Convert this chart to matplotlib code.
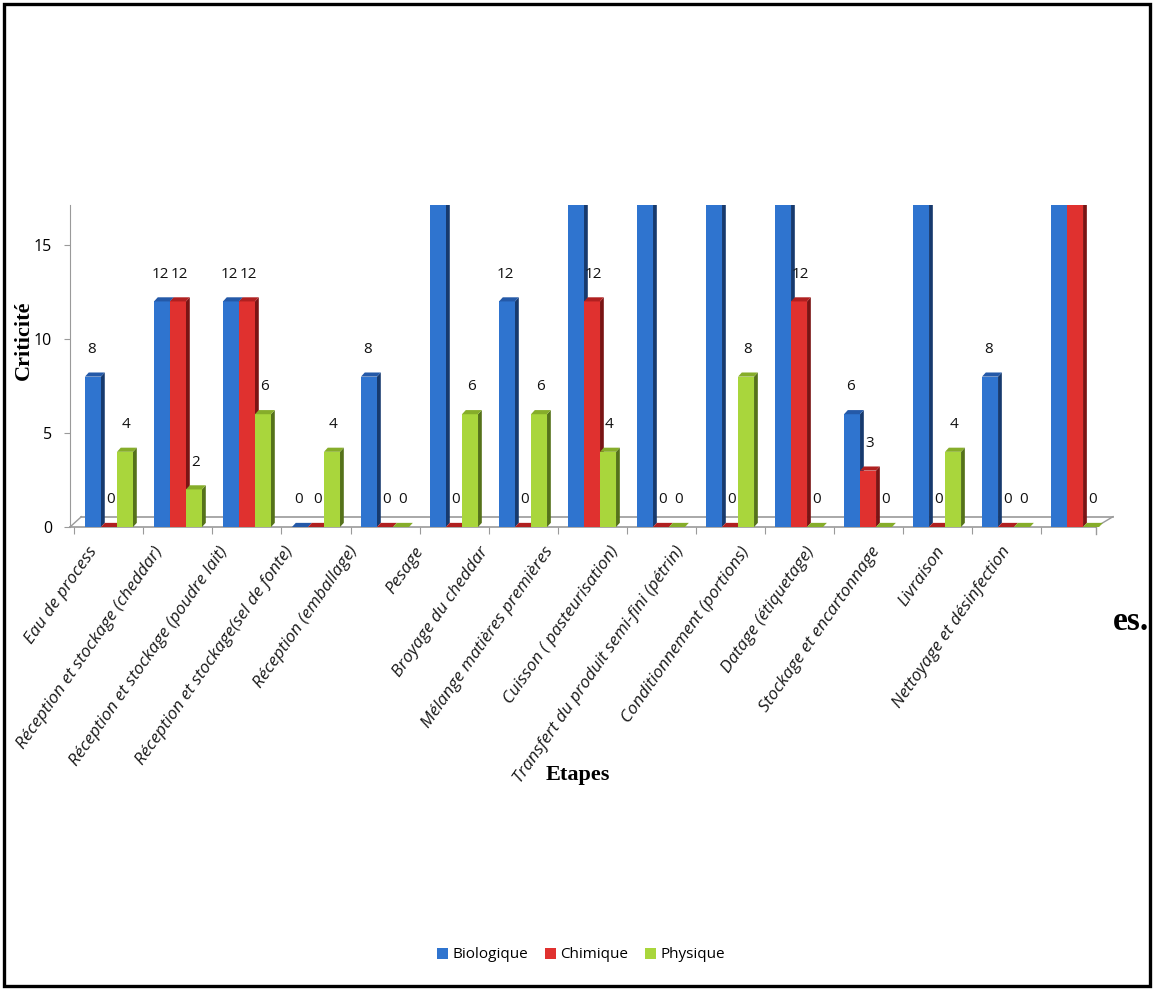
import numpy as np
import matplotlib.pyplot as plt
from matplotlib.patches import Polygon, Rectangle, Patch

etapes = ["Eau de process",
          "Réception et stockage (cheddar)",
          "Réception et stockage (poudre lait)",
          "Réception et stockage(sel de fonte)",
          "Réception (emballage)",
          "Pesage",
          "Broyage du cheddar",
          "Mélange matières premières",
          "Cuisson ( pasteurisation)",
          "Transfert du produit semi-fini (pétrin)",
          "Conditionnement (portions)",
          "Datage (étiquetage)",
          "Stockage et encartonnage",
          "Livraison",
          "Nettoyage et désinfection"]

# valeurs au-dessus de l'echelle -> barres coupees en haut
biologique = [8, 12, 12, 0, 8, 18, 12, 18, 18, 18, 18, 6, 18, 8, 18]
chimique = [0, 12, 12, 0, 0, 0, 0, 12, 0, 0, 12, 3, 0, 0, 18]
physique = [4, 2, 6, 4, 0, 6, 6, 4, 0, 8, 0, 0, 4, 0, 0]

series = [("Biologique", biologique, "#2f74cf", "#173a6e", "#2459a8"),
          ("Chimique", chimique, "#e0312f", "#7a1414", "#b02020"),
          ("Physique", physique, "#a9d63c", "#55721a", "#86ad2a")]

W, H = 1153, 989
fig = plt.figure(figsize=(W / 100, H / 100), dpi=100)

ymax = 17.13
ax = fig.add_axes([70 / W, (H - 527) / H, (1113 - 70) / W, (527 - 205) / H])
ax.set_xlim(-0.565, 14.55)
ax.set_ylim(0, ymax)

x = np.arange(len(etapes))
bw = 0.232
dx, dy = 0.055, 0.22
shift = [-0.02, 0.025, 0.02]

for k, (nom, vals, c_face, c_side, c_top) in enumerate(series):
    xs = x + (k - 1) * bw
    ax.bar(xs, vals, width=bw, color=c_face, edgecolor="none", zorder=3 + k)
    for xi, v in zip(xs, vals):
        x0, x1 = xi - bw / 2, xi + bw / 2
        side = Polygon([(x1, 0), (x1 + dx, dy), (x1 + dx, v + dy), (x1, v)],
                       closed=True, fc=c_side, ec="none", zorder=3 + k)
        top = Polygon([(x0, v), (x0 + dx, v + dy), (x1 + dx, v + dy), (x1, v)],
                      closed=True, fc=c_top, ec="none", zorder=3 + k)
        ax.add_patch(side)
        ax.add_patch(top)
        if v <= ymax - 1.5:
            ax.text(xi + shift[k], v + 1.45, str(v), ha="center", va="center",
                    fontsize=11, family="Open Sans", color="#111111",
                    zorder=10)

# plancher 3D
ax.plot([-0.565, 14.3], [0, 0], color="#9a9a9a", lw=1.2, zorder=1, clip_on=False)
ax.plot([-0.4, 14.55], [0.55, 0.55], color="#9a9a9a", lw=1.2, zorder=1, clip_on=False)
ax.plot([-0.565, -0.4], [0, 0.55], color="#9a9a9a", lw=1.0, zorder=1, clip_on=False)
ax.plot([14.3, 14.55], [0, 0.55], color="#9a9a9a", lw=1.0, zorder=1, clip_on=False)
ax.plot([14.3, 14.3], [0, -0.35], color="#9a9a9a", lw=1.0, zorder=1, clip_on=False)

for s in ["top", "right", "bottom"]:
    ax.spines[s].set_visible(False)
ax.spines["left"].set_color("#9a9a9a")
ax.set_yticks([0, 5, 10, 15])
ax.tick_params(axis="y", length=4, color="#9a9a9a", labelsize=11.5, pad=9)
for t in ax.get_yticklabels():
    t.set_family("Open Sans")
ax.set_xticks(np.arange(-0.5, 14.5, 1.0))
ax.set_xticklabels([])
ax.tick_params(axis="x", length=5, color="#9a9a9a")

# libelles des etapes sur le plan avant (perspective)
axf = fig.add_axes([55 / W, (H - 527) / H, 978 / W, 0.0001])
axf.set_xlim(-0.5, 14.5)
axf.patch.set_visible(False)
for s in ["top", "right", "left", "bottom"]:
    axf.spines[s].set_visible(False)
axf.set_yticks([])
axf.set_xticks(x)
axf.tick_params(axis="x", length=0, pad=12)
axf.set_xticklabels(etapes, rotation=55, ha="right", va="top",
                    rotation_mode="anchor", fontsize=12.5, style="italic",
                    family="Open Sans", color="#1a1a1a")

fig.text(24 / W, 1 - 340 / H, "Criticité", ha="center", va="center", rotation=90,
         fontsize=16, fontweight="bold", family="Liberation Serif")
fig.text(578 / W, 1 - 775 / H, "Etapes", ha="center", va="center", fontsize=16,
         fontweight="bold", family="Liberation Serif")
fig.text(1113 / W, 1 - 621 / H, "es.", ha="left", va="center", fontsize=24,
         fontweight="bold", family="Liberation Serif")

handles = [Patch(fc=s[2], ec="none", label=s[0]) for s in series]
fig.legend(handles=handles, loc="center", bbox_to_anchor=(581 / W, 1 - 955 / H),
           ncol=3, frameon=False, handlelength=0.7, handleheight=0.7,
           handletextpad=0.3, columnspacing=1.1,
           prop={"family": "Open Sans", "size": 11})

fig.patches.append(Rectangle((4 / W, 3 / H), (W - 7) / W, (H - 7) / H,
                             transform=fig.transFigure, fill=False, ec="black",
                             lw=2.4))

fig.savefig("out.png", dpi=100)
